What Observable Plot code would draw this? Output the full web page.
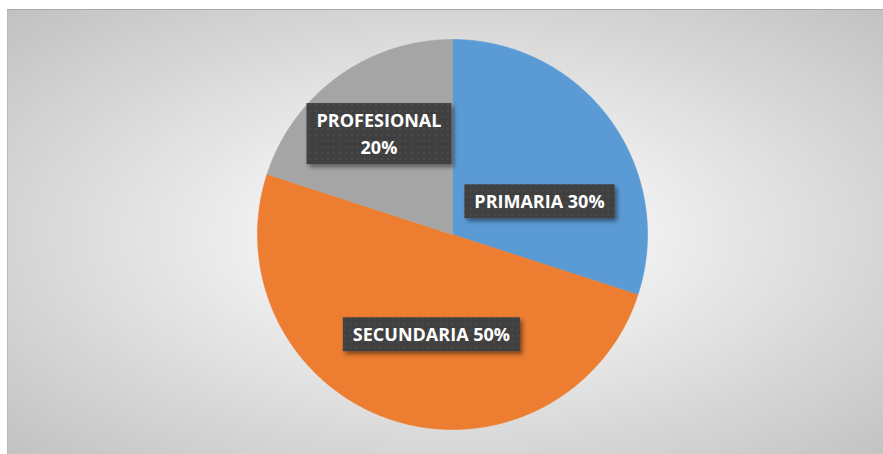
<!DOCTYPE html>
<html><head><meta charset="utf-8">
<script src="https://cdn.jsdelivr.net/npm/d3@7"></script>
<script src="https://cdn.jsdelivr.net/npm/@observablehq/plot@0.6"></script>
<style>
html,body{margin:0;padding:0;background:#fff;}
#wrap{position:relative;width:883px;height:454px;overflow:hidden;}
#bg{position:absolute;left:7px;top:9px;width:880px;height:450px;border-top:1px solid #a9a9a9;border-left:1px solid #b9b9b9;
 background:radial-gradient(ellipse farthest-corner at 445px 225px,#ffffff 0%,#f3f3f3 25%,#c1c1c1 100%);}
#chart{position:absolute;left:0;top:0;}
</style></head>
<body><div id="wrap"><div id="bg"></div><div id="chart"></div></div>
<script>
// ---- data ----
const categories = ["PRIMARIA", "SECUNDARIA", "PROFESIONAL"];
const values = [30, 50, 20];
const labels = ["PRIMARIA 30%", "SECUNDARIA 50%", "PROFESIONAL\n20%"];
const colors = ["#5B9BD5", "#ED7D31", "#A5A5A5"];

// ---- layout (label anchor positions in units of the pie radius) ----
const labelOffsets = [[0.446, 0.179], [-0.108, -0.503], [-0.377, 0.526]];

const arcs = d3.pie().sort(null).value(d => d)(values);
const pts = [];
arcs.forEach((a, i) => {
  const n = Math.max(2, Math.ceil((a.endAngle - a.startAngle) / (Math.PI / 360)));
  pts.push({cat: categories[i], x: 0, y: 0});
  for (let k = 0; k <= n; k++) {
    const t = a.startAngle + (a.endAngle - a.startAngle) * k / n;
    pts.push({cat: categories[i], x: Math.sin(t), y: Math.cos(t)});
  }
  pts.push({cat: categories[i], x: 0, y: 0});
});
const labelData = categories.map((c, i) => ({cat: c, text: labels[i], x: labelOffsets[i][0], y: labelOffsets[i][1]}));

const cx = 452, cy = 234, R = 195;
const svg = Plot.plot({
  width: 883, height: 454,
  style: {background: "transparent", overflow: "visible"},
  x: {domain: [-1, 1], range: [cx - R, cx + R], axis: null},
  y: {domain: [-1, 1], range: [cy + R, cy - R], axis: null},
  color: {domain: categories, range: colors},
  marks: [
    Plot.line(pts, {x: "x", y: "y", z: "cat", fill: "cat", stroke: "cat", strokeWidth: 0.6, curve: "linear"}),
    Plot.text(labelData, {x: "x", y: "y", text: "text", fill: "white", fontSize: 18, fontWeight: "bold",
      fontFamily: "'Open Sans', sans-serif", lineHeight: 1.5, lineAnchor: "middle", textAnchor: "middle"})
  ]
});
document.getElementById("chart").appendChild(svg);

const defs = d3.select(svg).insert("defs", ":first-child");
const pat = defs.append("pattern").attr("id", "dots").attr("width", 6).attr("height", 6).attr("patternUnits", "userSpaceOnUse");
pat.append("rect").attr("width", 6).attr("height", 6).attr("fill", "#404040");
pat.append("circle").attr("cx", 3).attr("cy", 3).attr("r", 1.1).attr("fill", "#4e4e4e");
const f = defs.append("filter").attr("id", "sh").attr("x", "-20%").attr("y", "-30%").attr("width", "150%").attr("height", "170%");
f.append("feDropShadow").attr("dx", 2.5).attr("dy", 3).attr("stdDeviation", 2).attr("flood-color", "#000").attr("flood-opacity", 0.45);

svg.querySelectorAll('g[aria-label="text"] text').forEach(t => {
  const b = t.getBBox();
  const px = 10, py = 5;
  const r = document.createElementNS("http://www.w3.org/2000/svg", "rect");
  r.setAttribute("x", b.x - px);
  r.setAttribute("y", b.y - py);
  r.setAttribute("width", b.width + 2 * px);
  r.setAttribute("height", b.height + 2 * py);
  r.setAttribute("fill", "url(#dots)");
  r.setAttribute("filter", "url(#sh)");
  if (t.getAttribute("transform")) r.setAttribute("transform", t.getAttribute("transform"));
  t.parentNode.insertBefore(r, t);
});
</script></body></html>
